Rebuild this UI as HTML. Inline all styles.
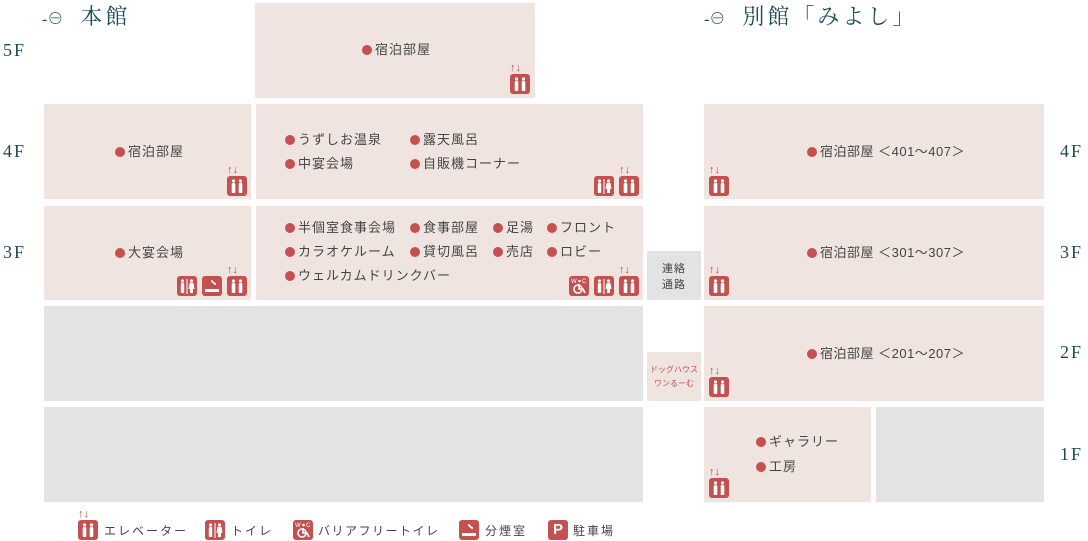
<!DOCTYPE html>
<html><head><meta charset="utf-8"><style>
body{margin:0;width:1088px;height:541px;position:relative;background:#fff;font-family:"Liberation Sans","Noto Sans CJK JP",sans-serif;overflow:hidden}
.b{position:absolute;background:#f0e4e0}
.g{position:absolute;background:#e3e3e3}
.t{position:absolute;font-size:13px;color:#444;letter-spacing:1px;white-space:nowrap;line-height:16px}
.t i{display:inline-block;width:10px;height:10px;border-radius:50%;background:#c4504f;margin-right:3px;vertical-align:-1px}
.f{position:absolute;font-family:"Liberation Serif","Noto Serif CJK SC",serif;font-size:18px;color:#1e4a55;letter-spacing:2px}
.h{position:absolute;font-family:"Liberation Serif","Noto Serif CJK SC",serif;font-size:22px;color:#1e4a55;letter-spacing:3px;white-space:nowrap}
.ic{position:absolute;width:20px;height:20px;border-radius:3px;background:#c4504f}
.ic svg{position:absolute;left:0;top:0}
.ar{position:absolute;font-size:11px;color:#c4504f;line-height:10px;letter-spacing:0;font-weight:bold}
.lg{position:absolute;font-size:12px;color:#444;letter-spacing:2px;top:522px}
</style></head><body>
<div class="h" style="left:42px;top:0px"><span style="font-size:16px;letter-spacing:0">-⊖</span>&nbsp;&nbsp;本館</div>
<div class="h" style="left:704px;top:0px"><span style="font-size:16px;letter-spacing:0">-⊖</span>&nbsp;&nbsp;別館「みよし」</div>
<div class="f" style="left:3px;top:40px">5F</div>
<div class="f" style="left:3px;top:141px">4F</div>
<div class="f" style="left:3px;top:242px">3F</div>
<div class="f" style="left:1060px;top:141px">4F</div>
<div class="f" style="left:1060px;top:242px">3F</div>
<div class="f" style="left:1060px;top:342px">2F</div>
<div class="f" style="left:1060px;top:444px">1F</div>

<div class="b" style="left:255px;top:3px;width:280px;height:95px"></div>
<div class="b" style="left:44px;top:104px;width:207px;height:95px"></div>
<div class="b" style="left:256px;top:104px;width:387px;height:95px"></div>
<div class="b" style="left:704px;top:104px;width:340px;height:95px"></div>
<div class="b" style="left:44px;top:206px;width:207px;height:94px"></div>
<div class="b" style="left:256px;top:206px;width:387px;height:94px"></div>
<div class="g" style="left:647px;top:251px;width:54px;height:49px"></div>
<div class="b" style="left:704px;top:206px;width:340px;height:94px"></div>
<div class="g" style="left:44px;top:306px;width:599px;height:95px"></div>
<div class="b" style="left:647px;top:352px;width:54px;height:49px"></div>
<div class="b" style="left:704px;top:306px;width:340px;height:95px"></div>
<div class="g" style="left:44px;top:407px;width:599px;height:95px"></div>
<div class="b" style="left:704px;top:407px;width:167px;height:95px"></div>
<div class="g" style="left:876px;top:407px;width:168px;height:95px"></div>

<div class="t" style="left:362px;top:42px"><i></i>宿泊部屋</div>
<div class="t" style="left:115px;top:144px"><i></i>宿泊部屋</div>
<div class="t" style="left:285px;top:132px"><i></i>うずしお温泉</div>
<div class="t" style="left:410px;top:132px"><i></i>露天風呂</div>
<div class="t" style="left:285px;top:156px"><i></i>中宴会場</div>
<div class="t" style="left:410px;top:156px"><i></i>自販機コーナー</div>
<div class="t" style="left:807px;top:144px;letter-spacing:0.5px"><i></i>宿泊部屋 ＜401〜407＞</div>
<div class="t" style="left:115px;top:245px"><i></i>大宴会場</div>
<div class="t" style="left:285px;top:220px"><i></i>半個室食事会場</div>
<div class="t" style="left:410px;top:220px"><i></i>食事部屋</div>
<div class="t" style="left:493px;top:220px"><i></i>足湯</div>
<div class="t" style="left:547px;top:220px"><i></i>フロント</div>
<div class="t" style="left:285px;top:244px"><i></i>カラオケルーム</div>
<div class="t" style="left:410px;top:244px"><i></i>貸切風呂</div>
<div class="t" style="left:493px;top:244px"><i></i>売店</div>
<div class="t" style="left:547px;top:244px"><i></i>ロビー</div>
<div class="t" style="left:285px;top:268px"><i></i>ウェルカムドリンクバー</div>
<div class="t" style="left:807px;top:245px;letter-spacing:0.5px"><i></i>宿泊部屋 ＜301〜307＞</div>
<div class="t" style="left:807px;top:346px;letter-spacing:0.5px"><i></i>宿泊部屋 ＜201〜207＞</div>
<div class="t" style="left:756px;top:434px"><i></i>ギャラリー</div>
<div class="t" style="left:756px;top:459px"><i></i>工房</div>
<div class="t" style="left:647px;top:261px;width:54px;text-align:center;font-size:11px;line-height:16px;letter-spacing:1px">連絡<br>通路</div>
<div class="t" style="left:647px;top:363px;width:54px;text-align:center;font-size:8px;line-height:14px;letter-spacing:0;color:#c4504f">ドッグハウス<br>ワンるーむ</div>

<svg width="0" height="0" style="position:absolute"><defs>
<g id="e"><g fill="#fff"><circle cx="6.5" cy="5" r="1.6"/><rect x="4.7" y="7" width="3.6" height="10" rx="1"/><circle cx="13.5" cy="5" r="1.6"/><rect x="11.7" y="7" width="3.6" height="10" rx="1"/></g></g>
<g id="w"><g fill="#fff"><circle cx="5.5" cy="5" r="1.6"/><rect x="3.8" y="7" width="3.4" height="10" rx="1"/><rect x="9.5" y="3" width="1" height="15"/><circle cx="14.5" cy="5" r="1.6"/><path d="M12.5 7h4l1 6h-1.5v4h-3v-4h-1.5z"/></g></g>
<g id="h"><g fill="none" stroke="#fff" stroke-width="1.6"><circle cx="9" cy="13" r="4"/><path d="M10 8v5h4l2 4"/></g><text x="2" y="7" font-size="6" fill="#fff" font-family="Liberation Sans">W</text><text x="13" y="7" font-size="6" fill="#fff" font-family="Liberation Sans">C</text><circle cx="10.5" cy="5" r="1.3" fill="#fff"/></g>
<g id="s"><g fill="#fff"><rect x="3" y="13" width="14" height="3"/><path d="M9 4c3 0 2 3 5 3v2c-3 0-3-3-5-3z"/></g></g>
</defs></svg>

<div class="ar" style="left:510px;top:63px">↑↓</div><div class="ic" style="left:510px;top:74px"><svg width="20" height="20"><use href="#e"/></svg></div>
<div class="ar" style="left:227px;top:165px">↑↓</div><div class="ic" style="left:227px;top:176px"><svg width="20" height="20"><use href="#e"/></svg></div>
<div class="ic" style="left:594px;top:176px"><svg width="20" height="20"><use href="#w"/></svg></div>
<div class="ar" style="left:619px;top:165px">↑↓</div><div class="ic" style="left:619px;top:176px"><svg width="20" height="20"><use href="#e"/></svg></div>
<div class="ic" style="left:177px;top:276px"><svg width="20" height="20"><use href="#w"/></svg></div>
<div class="ic" style="left:202px;top:276px"><svg width="20" height="20"><use href="#s"/></svg></div>
<div class="ar" style="left:227px;top:265px">↑↓</div><div class="ic" style="left:227px;top:276px"><svg width="20" height="20"><use href="#e"/></svg></div>
<div class="ic" style="left:569px;top:276px"><svg width="20" height="20"><use href="#h"/></svg></div>
<div class="ic" style="left:594px;top:276px"><svg width="20" height="20"><use href="#w"/></svg></div>
<div class="ar" style="left:619px;top:265px">↑↓</div><div class="ic" style="left:619px;top:276px"><svg width="20" height="20"><use href="#e"/></svg></div>
<div class="ar" style="left:709px;top:165px">↑↓</div><div class="ic" style="left:709px;top:176px"><svg width="20" height="20"><use href="#e"/></svg></div>
<div class="ar" style="left:709px;top:265px">↑↓</div><div class="ic" style="left:709px;top:276px"><svg width="20" height="20"><use href="#e"/></svg></div>
<div class="ar" style="left:709px;top:366px">↑↓</div><div class="ic" style="left:709px;top:377px"><svg width="20" height="20"><use href="#e"/></svg></div>
<div class="ar" style="left:709px;top:467px">↑↓</div><div class="ic" style="left:709px;top:478px"><svg width="20" height="20"><use href="#e"/></svg></div>

<div class="ar" style="left:78px;top:509px">↑↓</div><div class="ic" style="left:78px;top:520px"><svg width="20" height="20"><use href="#e"/></svg></div>
<div class="lg" style="left:104px">エレベーター</div>
<div class="ic" style="left:205px;top:520px"><svg width="20" height="20"><use href="#w"/></svg></div>
<div class="lg" style="left:231px">トイレ</div>
<div class="ic" style="left:293px;top:520px"><svg width="20" height="20"><use href="#h"/></svg></div>
<div class="lg" style="left:318px;letter-spacing:1.5px">バリアフリートイレ</div>
<div class="ic" style="left:459px;top:520px"><svg width="20" height="20"><use href="#s"/></svg></div>
<div class="lg" style="left:485px">分煙室</div>
<div class="ic" style="left:548px;top:520px;color:#fff;font-weight:bold;font-size:15px;text-align:center;line-height:20px">P</div>
<div class="lg" style="left:573px">駐車場</div>
</body></html>
